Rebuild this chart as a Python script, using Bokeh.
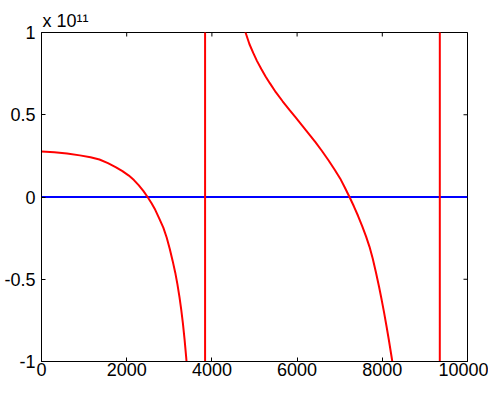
import math
from bokeh.plotting import figure
from bokeh.models import Range1d, FixedTicker
from bokeh.embed import file_html
from bokeh.resources import INLINE

# ---- data (y values in units of 1e11) ----
EXPONENT = 11
red_x = [0, 300, 600, 900, 1150, 1360, 1560, 1750, 1900, 2050, 2170, 2280, 2390,
         2490, 2580, 2670, 2760, 2860, 2940, 3010, 3080, 3140, 3190, 3240, 3280,
         3320, 3360, 3395, 3430, 3500, 3600, 3700, 3800, 3838,
         3842, 3900, 4000, 4200, 4450, 4650, 4790, 4880, 4970, 5060, 5160, 5260,
         5360, 5500, 5660, 5820, 5970, 6120, 6275, 6430, 6580, 6740, 6890, 7010,
         7120, 7230, 7330, 7430, 7530, 7620, 7700, 7775, 7850, 7925, 7985, 8040,
         8100, 8155, 8226, 8300, 8450, 8700, 9000, 9200, 9345,
         9355, 9500, 9700, 10000]
red_y = [0.276, 0.272, 0.265, 0.253, 0.242, 0.228, 0.206, 0.180, 0.157, 0.130, 0.103, 0.072, 0.037,
         0.0, -0.036, -0.078, -0.128, -0.186, -0.248, -0.315, -0.39, -0.46, -0.53, -0.61, -0.685,
         -0.77, -0.87, -0.97, -1.08, -1.35, -1.9, -3.0, -8.0, -60.0,
         60.0, 10.0, 4.5, 2.3, 1.5, 1.17, 1.0, 0.93, 0.876, 0.826, 0.778, 0.733,
         0.692, 0.637, 0.582, 0.53, 0.482, 0.434, 0.384, 0.333, 0.281, 0.222, 0.163, 0.113,
         0.058, 0.0, -0.055, -0.114, -0.178, -0.241, -0.303, -0.374, -0.457, -0.547, -0.625, -0.70,
         -0.787, -0.871, -0.985, -1.11, -1.5, -2.3, -4.0, -10.0, -80.0,
         80.0, 8.0, 4.0, 2.5]
blue_x = [0, 10000]
blue_y = [0.0, 0.0]

x_ticks = [0, 2000, 4000, 6000, 8000, 10000]
x_tick_labels = ["0", "2000", "4000", "6000", "8000", "10000"]
y_ticks = [-1, -0.5, 0, 0.5, 1]
y_tick_labels = ["-1", "-0.5", "0", "0.5", "1"]
x_min, x_max = 0, 10000
y_min, y_max = -1, 1

FONT = "Liberation Sans"
SUPERSCRIPT_DIGITS = "\u2070\u00b9\u00b2\u00b3\u2074\u2075\u2076\u2077\u2078\u2079"

p = figure(width=488, height=378, output_backend="svg", toolbar_location=None,
           x_range=Range1d(x_min, x_max), y_range=Range1d(y_min, y_max),
           min_border_left=41, min_border_right=21, min_border_top=32,
           min_border_bottom=0)
p.xgrid.visible = False
p.ygrid.visible = False
p.outline_line_color = "black"
p.outline_line_width = 1
p.background_fill_color = "white"
p.border_fill_color = "white"

p.title.text = "x 10" + "".join(SUPERSCRIPT_DIGITS[int(c)] for c in str(EXPONENT))
p.title.align = "left"
p.title.offset = 1
p.title.standoff = 3
p.title.text_font = FONT
p.title.text_font_size = "18px"
p.title.text_font_style = "normal"
p.title.text_color = "black"

p.xaxis.ticker = FixedTicker(ticks=x_ticks)
p.xaxis.major_label_overrides = {t: s for t, s in zip(x_ticks, x_tick_labels)}
p.yaxis.ticker = FixedTicker(ticks=y_ticks)
p.yaxis.major_label_overrides = {t: s for t, s in zip(y_ticks, y_tick_labels)}

for ax in p.xaxis + p.yaxis:
    ax.axis_line_color = "black"
    ax.axis_line_width = 1
    ax.major_tick_line_color = "black"
    ax.major_tick_in = 4
    ax.major_tick_out = 0
    ax.minor_tick_line_color = None
    ax.major_label_text_font = FONT
    ax.major_label_text_font_size = "18px"
    ax.major_label_text_color = "black"
p.xaxis.major_label_standoff = 1
p.yaxis.major_label_standoff = 6

# inward ticks on the top and right edges of the box (clipped to the frame)
p.scatter(x_ticks, [y_max] * len(x_ticks), marker="dash", size=8, angle=math.pi / 2,
          line_color="black", line_width=1)
p.scatter([x_max] * len(y_ticks), y_ticks, marker="dash", size=8,
          line_color="black", line_width=1)

p.line(blue_x, blue_y, line_color="#0000ff", line_width=2)
p.line(red_x, red_y, line_color="#ff0000", line_width=2)

open("out.html", "w").write(file_html(p, INLINE))
